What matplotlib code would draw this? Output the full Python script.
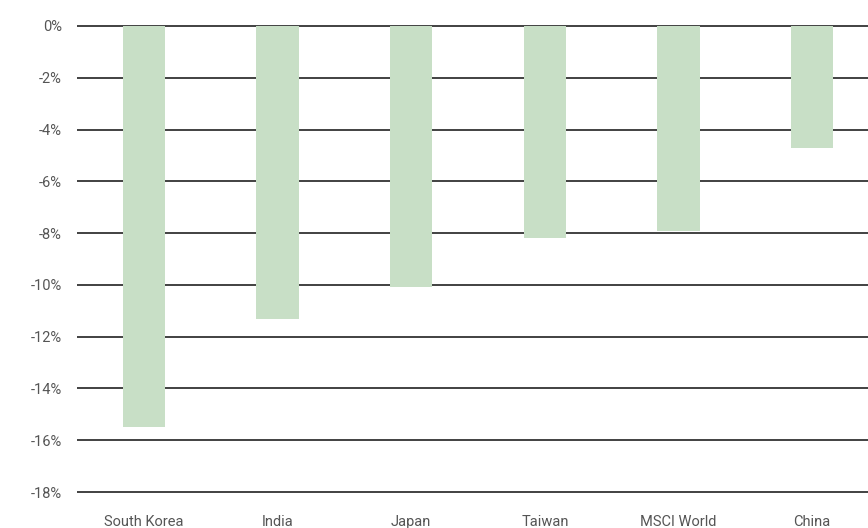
import matplotlib
matplotlib.use("Agg")
import matplotlib.pyplot as plt
from matplotlib.ticker import FuncFormatter

# peak-to-trough drawdown by market
markets = ["South Korea", "India", "Japan", "Taiwan", "MSCI World", "China"]
drawdown = [-15.5, -11.3, -10.1, -8.2, -7.9, -4.7]
yticks = list(range(0, -20, -2))

plt.rcParams["font.family"] = ["Roboto", "DejaVu Sans"]

fig = plt.figure(figsize=(8.68, 5.28), dpi=100)
# axes runs slightly past the right edge of the figure
ax = fig.add_axes([77 / 868, 1 - 494.6 / 528, 802 / 868, 471.2 / 528])

for y in yticks:
    ax.axhline(y, color="#333333", lw=1.3, zorder=1)

ax.bar(range(len(markets)), drawdown, width=0.315, color="#c8dfc6", zorder=2)

ax.set_xlim(-0.5, 5.5)
ax.set_ylim(-18.1, 0.1)
ax.set_yticks(yticks)
ax.yaxis.set_major_formatter(FuncFormatter(lambda v, p: f"{v:.0f}%"))
ax.set_xticks(range(len(markets)))
ax.set_xticklabels(markets)

ax.tick_params(axis="y", length=0, pad=11, labelsize=10.5, labelcolor="#555555")
ax.tick_params(axis="x", length=0, pad=14.5, labelsize=10.5, labelcolor="#555555")
for s in ax.spines.values():
    s.set_visible(False)

fig.savefig("out.png", dpi=100)
